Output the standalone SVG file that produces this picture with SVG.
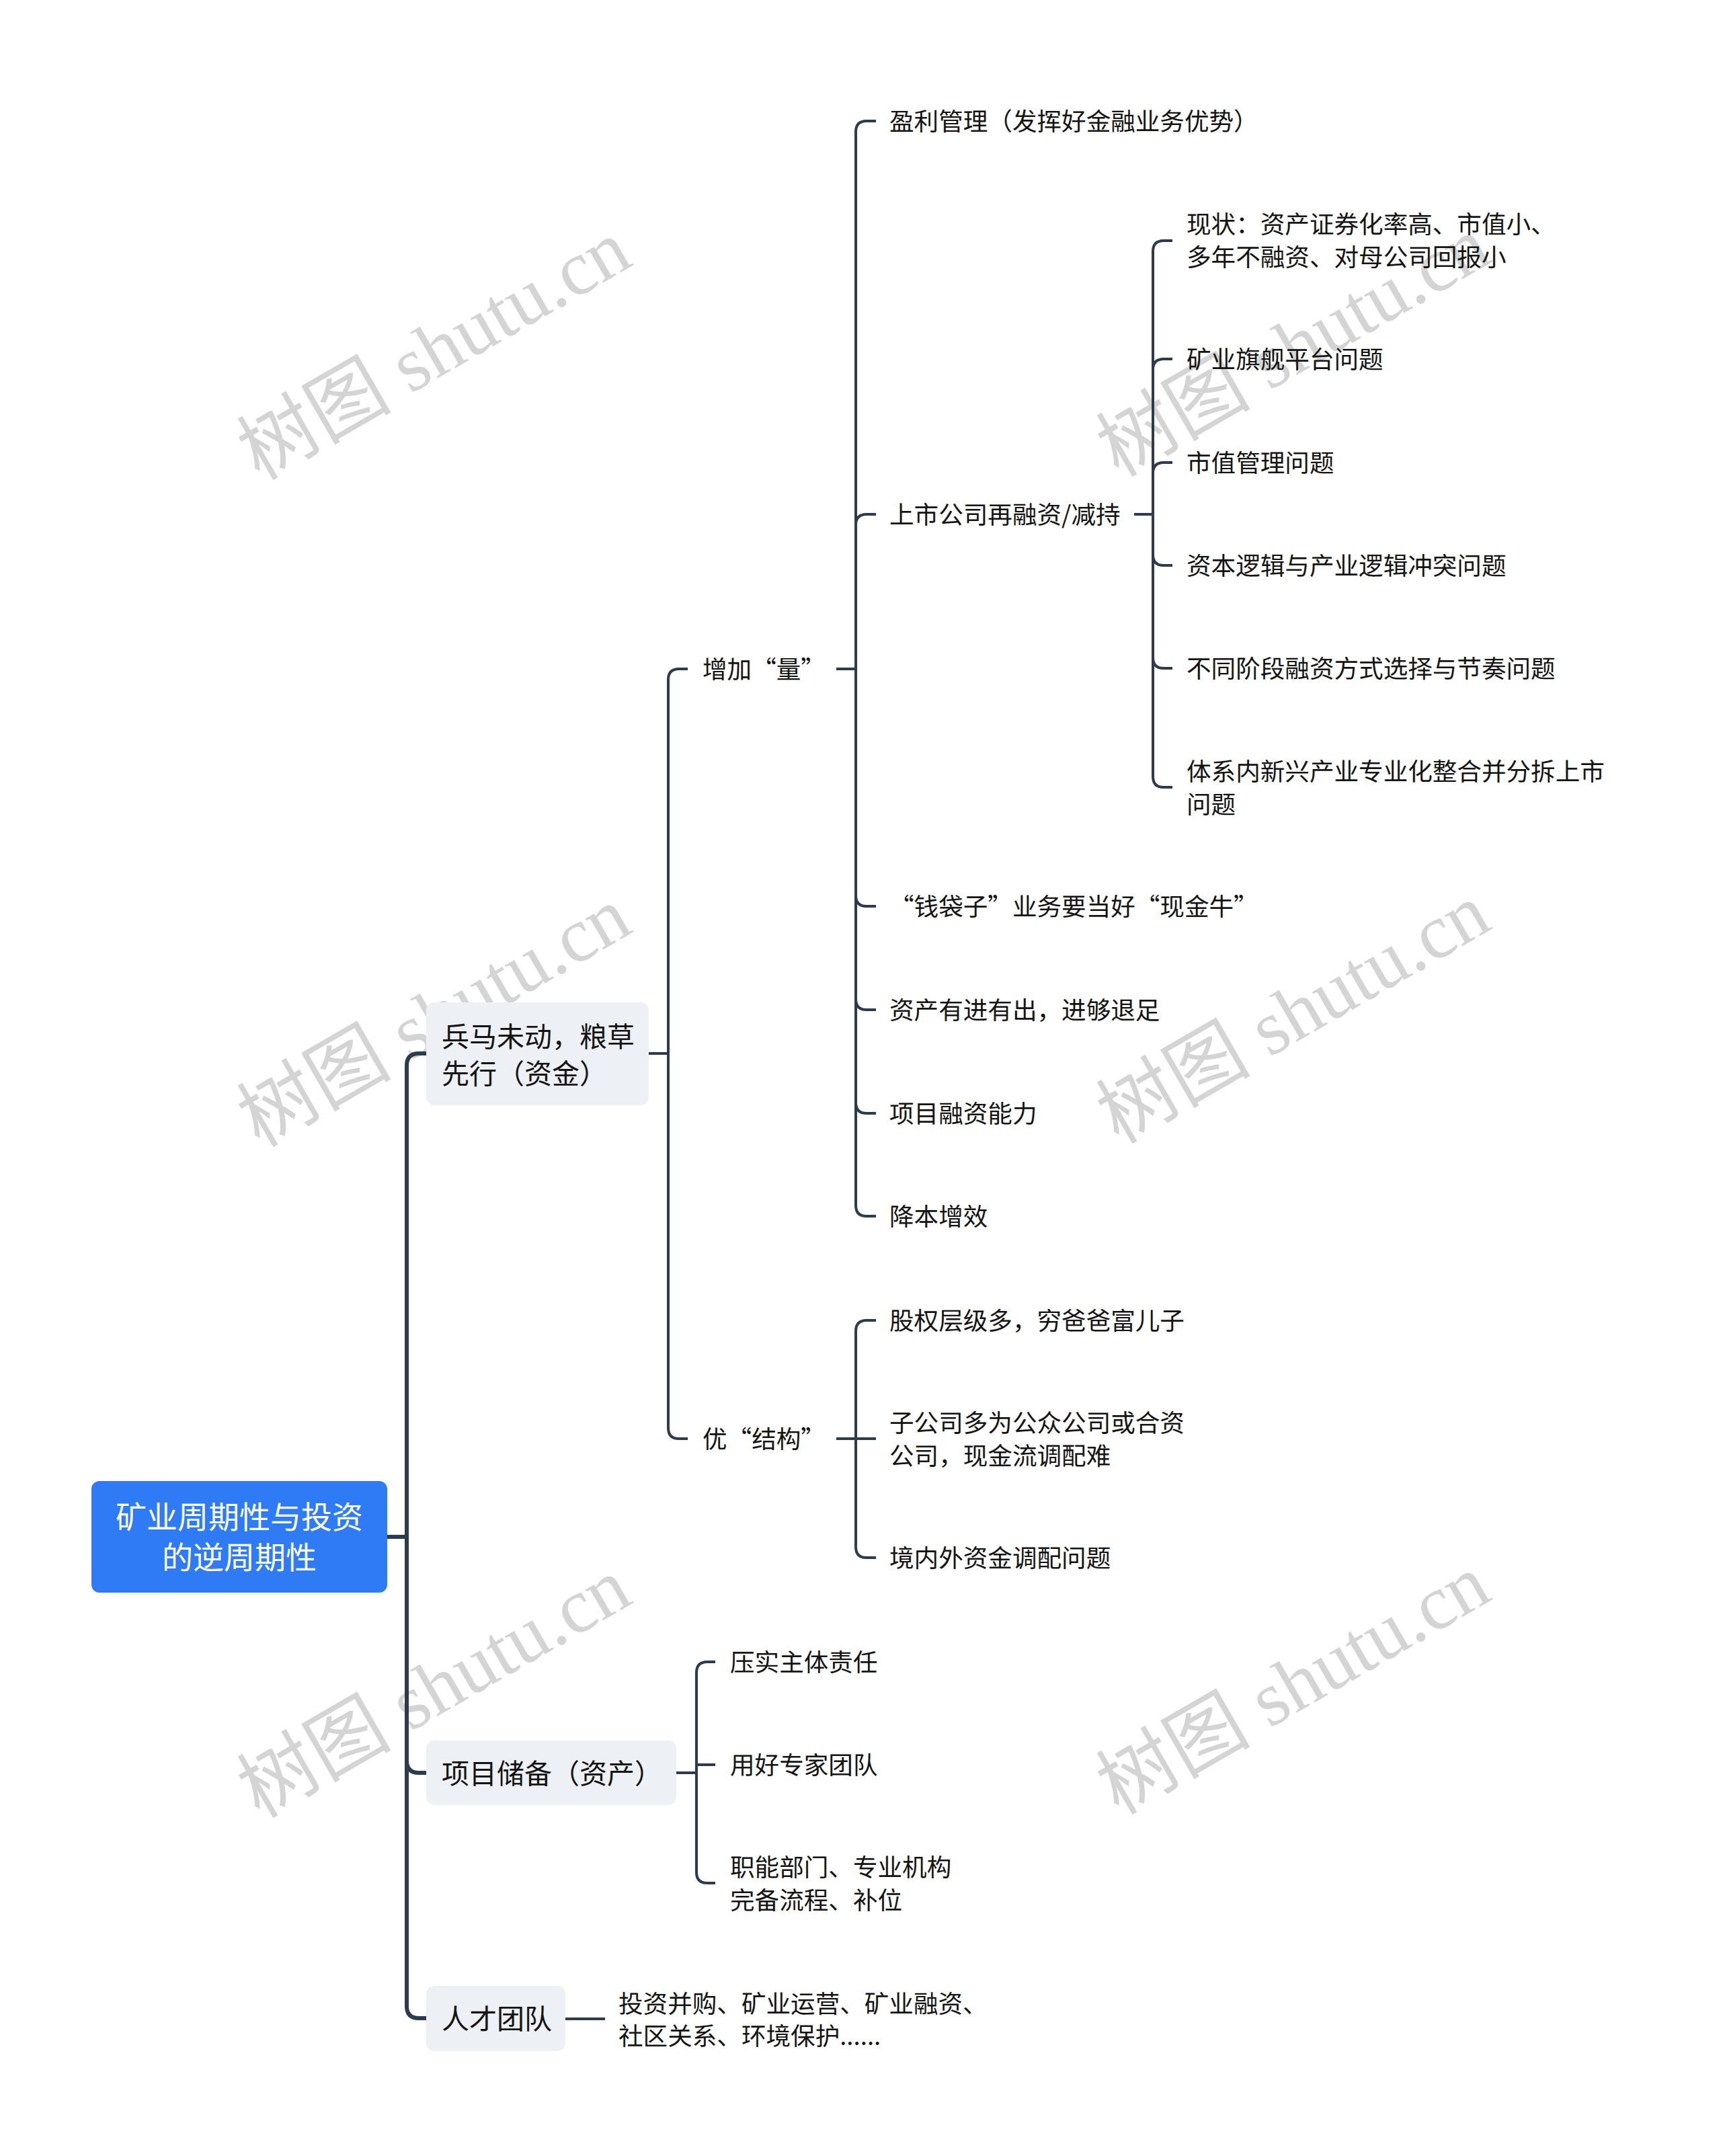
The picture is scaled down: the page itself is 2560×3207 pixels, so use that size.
<svg xmlns="http://www.w3.org/2000/svg" width="2560" height="3207" viewBox="0 0 2560 3207">
<style>
.wm{font-family:"Liberation Serif","Noto Sans CJK SC",serif;font-size:115px;fill:#cccccc;fill-opacity:0.85;text-anchor:middle;dominant-baseline:central}
.c{fill:none;stroke:#2d3b4e;stroke-width:4;stroke-linecap:butt;stroke-linejoin:round}
.trunk{stroke-width:6}
.t{font-family:"Noto Sans CJK SC","Noto Sans",sans-serif;fill:#141414}
.leaf{font-size:36.6px}
.l1{font-size:41px}
.root{font-size:46px;fill:#ffffff;text-anchor:middle}
.box1{fill:#edf0f4}
.rootbox{fill:#2f7bf5}
</style>
<rect width="2560" height="3207" fill="#ffffff"/>
<g id="watermarks">
<text class="wm" transform="translate(646,521) rotate(-30)">树图 shutu.cn</text>
<text class="wm" transform="translate(1924,516) rotate(-30)">树图 shutu.cn</text>
<text class="wm" transform="translate(646,1513) rotate(-30)">树图 shutu.cn</text>
<text class="wm" transform="translate(1924,1508) rotate(-30)">树图 shutu.cn</text>
<text class="wm" transform="translate(646,2511) rotate(-30)">树图 shutu.cn</text>
<text class="wm" transform="translate(1924,2506) rotate(-30)">树图 shutu.cn</text>
</g>
<g id="connectors">
<path class="c trunk" d="M576,2286 H605 V1585 Q605,1567 623,1567 H634"/>
<path class="c trunk" d="M576,2286 H605 V2619 Q605,2637 623,2637 H634"/>
<path class="c trunk" d="M576,2286 H605 V2984 Q605,3002 623,3002 H634"/>
<path class="c" d="M965,1567 H994 V1011 Q994,995 1010,995 H1023"/>
<path class="c" d="M965,1567 H994 V2124 Q994,2140 1010,2140 H1023"/>
<path class="c" d="M1244,995 H1273 V196 Q1273,180 1289,180 H1303"/>
<path class="c" d="M1244,995 H1273 V781 Q1273,765 1289,765 H1303"/>
<path class="c" d="M1244,995 H1273 V1332 Q1273,1348 1289,1348 H1303"/>
<path class="c" d="M1244,995 H1273 V1486 Q1273,1502 1289,1502 H1303"/>
<path class="c" d="M1244,995 H1273 V1640 Q1273,1656 1289,1656 H1303"/>
<path class="c" d="M1244,995 H1273 V1793 Q1273,1809 1289,1809 H1303"/>
<path class="c" d="M1687,765 H1715 V374 Q1715,358 1731,358 H1744"/>
<path class="c" d="M1687,765 H1715 V550 Q1715,534 1731,534 H1744"/>
<path class="c" d="M1687,765 H1715 V704 Q1715,688 1731,688 H1744"/>
<path class="c" d="M1687,765 H1715 V825 Q1715,841 1731,841 H1744"/>
<path class="c" d="M1687,765 H1715 V978 Q1715,994 1731,994 H1744"/>
<path class="c" d="M1687,765 H1715 V1155 Q1715,1171 1731,1171 H1744"/>
<path class="c" d="M1244,2140 H1273 V1980 Q1273,1964 1289,1964 H1303"/>
<path class="c" d="M1244,2140 H1303"/>
<path class="c" d="M1244,2140 H1273 V2301 Q1273,2317 1289,2317 H1303"/>
<path class="c" d="M1006,2637 H1036 V2488 Q1036,2472 1052,2472 H1064"/>
<path class="c" d="M1006,2637 H1036 V2625 H1064"/>
<path class="c" d="M1006,2637 H1036 V2785 Q1036,2801 1052,2801 H1064"/>
<path class="c" d="M841,3003 H900"/>
</g>
<g id="root">
<rect class="rootbox" x="136" y="2203" width="440" height="166" rx="12"/>
<text class="t root" x="356" y="2273">矿业周期性与投资</text>
<text class="t root" x="356" y="2333">的逆周期性</text>
</g>
<g id="n-bingma">
<rect class="box1" x="634" y="1491" width="331" height="153" rx="12"/>
<text class="t l1" x="657" y="1557">兵马未动，粮草</text>
<text class="t l1" x="657" y="1612">先行（资金）</text>
</g>
<g id="n-xiangmu">
<rect class="box1" x="634" y="2589" width="372" height="96" rx="12"/>
<text class="t l1" x="657" y="2653">项目储备（资产）</text>
</g>
<g id="n-rencai">
<rect class="box1" x="634" y="2954" width="207" height="97" rx="12"/>
<text class="t l1" x="657" y="3018">人才团队</text>
</g>
<g id="n-zengjia"><text class="t leaf" x="1045" y="1009">增加“量”</text></g>
<g id="n-you"><text class="t leaf" x="1045" y="2154">优“结构”</text></g>
<g id="n-yingli"><text class="t leaf" x="1323" y="194">盈利管理（发挥好金融业务优势）</text></g>
<g id="n-shangshi"><text class="t leaf" x="1323" y="779">上市公司再融资/减持</text></g>
<g id="n-xianzhuang"><text class="t leaf" x="1765" y="347">现状：资产证券化率高、市值小、</text><text class="t leaf" x="1765" y="396">多年不融资、对母公司回报小</text></g>
<g id="n-kuangye"><text class="t leaf" x="1765" y="548">矿业旗舰平台问题</text></g>
<g id="n-shizhi"><text class="t leaf" x="1765" y="702">市值管理问题</text></g>
<g id="n-ziben"><text class="t leaf" x="1765" y="855">资本逻辑与产业逻辑冲突问题</text></g>
<g id="n-butong"><text class="t leaf" x="1765" y="1008">不同阶段融资方式选择与节奏问题</text></g>
<g id="n-tixi"><text class="t leaf" x="1765" y="1161">体系内新兴产业专业化整合并分拆上市</text><text class="t leaf" x="1765" y="1210">问题</text></g>
<g id="n-qiandai"><text class="t leaf" x="1323" y="1362">“钱袋子”业务要当好“现金牛”</text></g>
<g id="n-zichan"><text class="t leaf" x="1323" y="1516">资产有进有出，进够退足</text></g>
<g id="n-rongzi"><text class="t leaf" x="1323" y="1670">项目融资能力</text></g>
<g id="n-jiangben"><text class="t leaf" x="1323" y="1823">降本增效</text></g>
<g id="n-guquan"><text class="t leaf" x="1323" y="1978">股权层级多，穷爸爸富儿子</text></g>
<g id="n-zigongsi"><text class="t leaf" x="1323" y="2130">子公司多为公众公司或合资</text><text class="t leaf" x="1323" y="2179">公司，现金流调配难</text></g>
<g id="n-jingnei"><text class="t leaf" x="1323" y="2331">境内外资金调配问题</text></g>
<g id="n-yashi"><text class="t leaf" x="1086" y="2486">压实主体责任</text></g>
<g id="n-yonghao"><text class="t leaf" x="1086" y="2639">用好专家团队</text></g>
<g id="n-zhineng"><text class="t leaf" x="1086" y="2791">职能部门、专业机构</text><text class="t leaf" x="1086" y="2840">完备流程、补位</text></g>
<g id="n-rencai-leaf"><text class="t leaf" x="920" y="2994">投资并购、矿业运营、矿业融资、</text><text class="t leaf" x="920" y="3042">社区关系、环境保护......</text></g>
</svg>
